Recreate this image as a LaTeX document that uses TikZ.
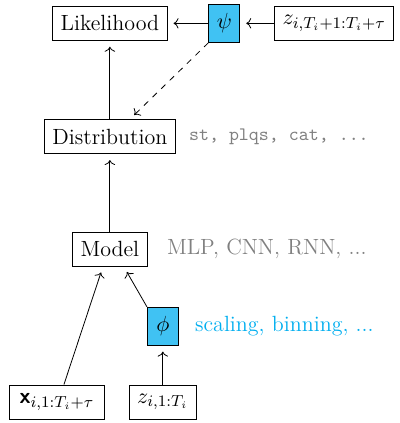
\documentclass[tikz,border=0pt]{standalone}
\usepackage{amsmath}
\usepackage{tikz}
\usetikzlibrary{arrows.meta, positioning, calc}
\definecolor{mapcolor}{RGB}{0,174,239}
\definecolor{notecolor}{RGB}{128,128,128}

\begin{document}
\begin{tikzpicture}[
    box/.style={rectangle, draw, minimum height=17pt, inner xsep=4pt, inner ysep=2pt, align=center, font=\fontsize{11}{13}\selectfont},
    mapbox/.style={rectangle, draw, fill=mapcolor!75, minimum width=15.5pt, minimum height=19pt, inner sep=0pt, font=\fontsize{11}{13}\selectfont},
    note/.style={inner sep=0pt, text=notecolor, font=\fontsize{11}{13}\selectfont},
    arrow/.style={->, shorten >=3pt}
]
\useasboundingbox (0,0) rectangle (7.01,-7.43);

\node[box] (lik) at (1.93,-0.41) {Likelihood};
\node[mapbox] (psi) at (3.94,-0.41) {$\psi$};
\node[box] (zfut) at (5.87,-0.41) {$z_{i,T_i+1:T_i+\tau}$};
\node[box] (dist) at (1.93,-2.40) {Distribution};
\node[box] (model) at (1.93,-4.38) {Model};
\node[mapbox] (phi) at (2.86,-5.73) {$\phi$};
\node[box, inner xsep=5pt] (xin) at (1.00,-7.06) {$\text{\sffamily\bfseries x}_{i,1:T_i+\tau}$};
\node[box] (zin) at (2.86,-7.06) {$z_{i,1:T_i}$};

% side notes
\node[note, right=6.5pt of dist, font=\fontsize{9.5}{11}\ttfamily] (distnote) {st, plqs, cat, ...};
\node[note, right=9.5pt of model] (modelnote) {MLP, CNN, RNN, ...};
\node[note, right=8pt of phi, text=mapcolor] (phinote) {scaling, binning, ...};

\draw[arrow] (dist) -- (lik);
\draw[arrow] (model) -- (dist);
\draw[arrow] (psi) -- (lik);
\draw[arrow] (zfut) -- (psi);
\draw[arrow, dashed] (psi.south west) -- ([xshift=10pt]dist.north);
\draw[arrow] ([xshift=3.5pt]xin.north) -- ([xshift=-3.5pt]model.south);
\draw[arrow] (phi.north west) -- ([xshift=7pt]model.south);
\draw[arrow] (zin) -- (phi);
\end{tikzpicture}
\end{document}
